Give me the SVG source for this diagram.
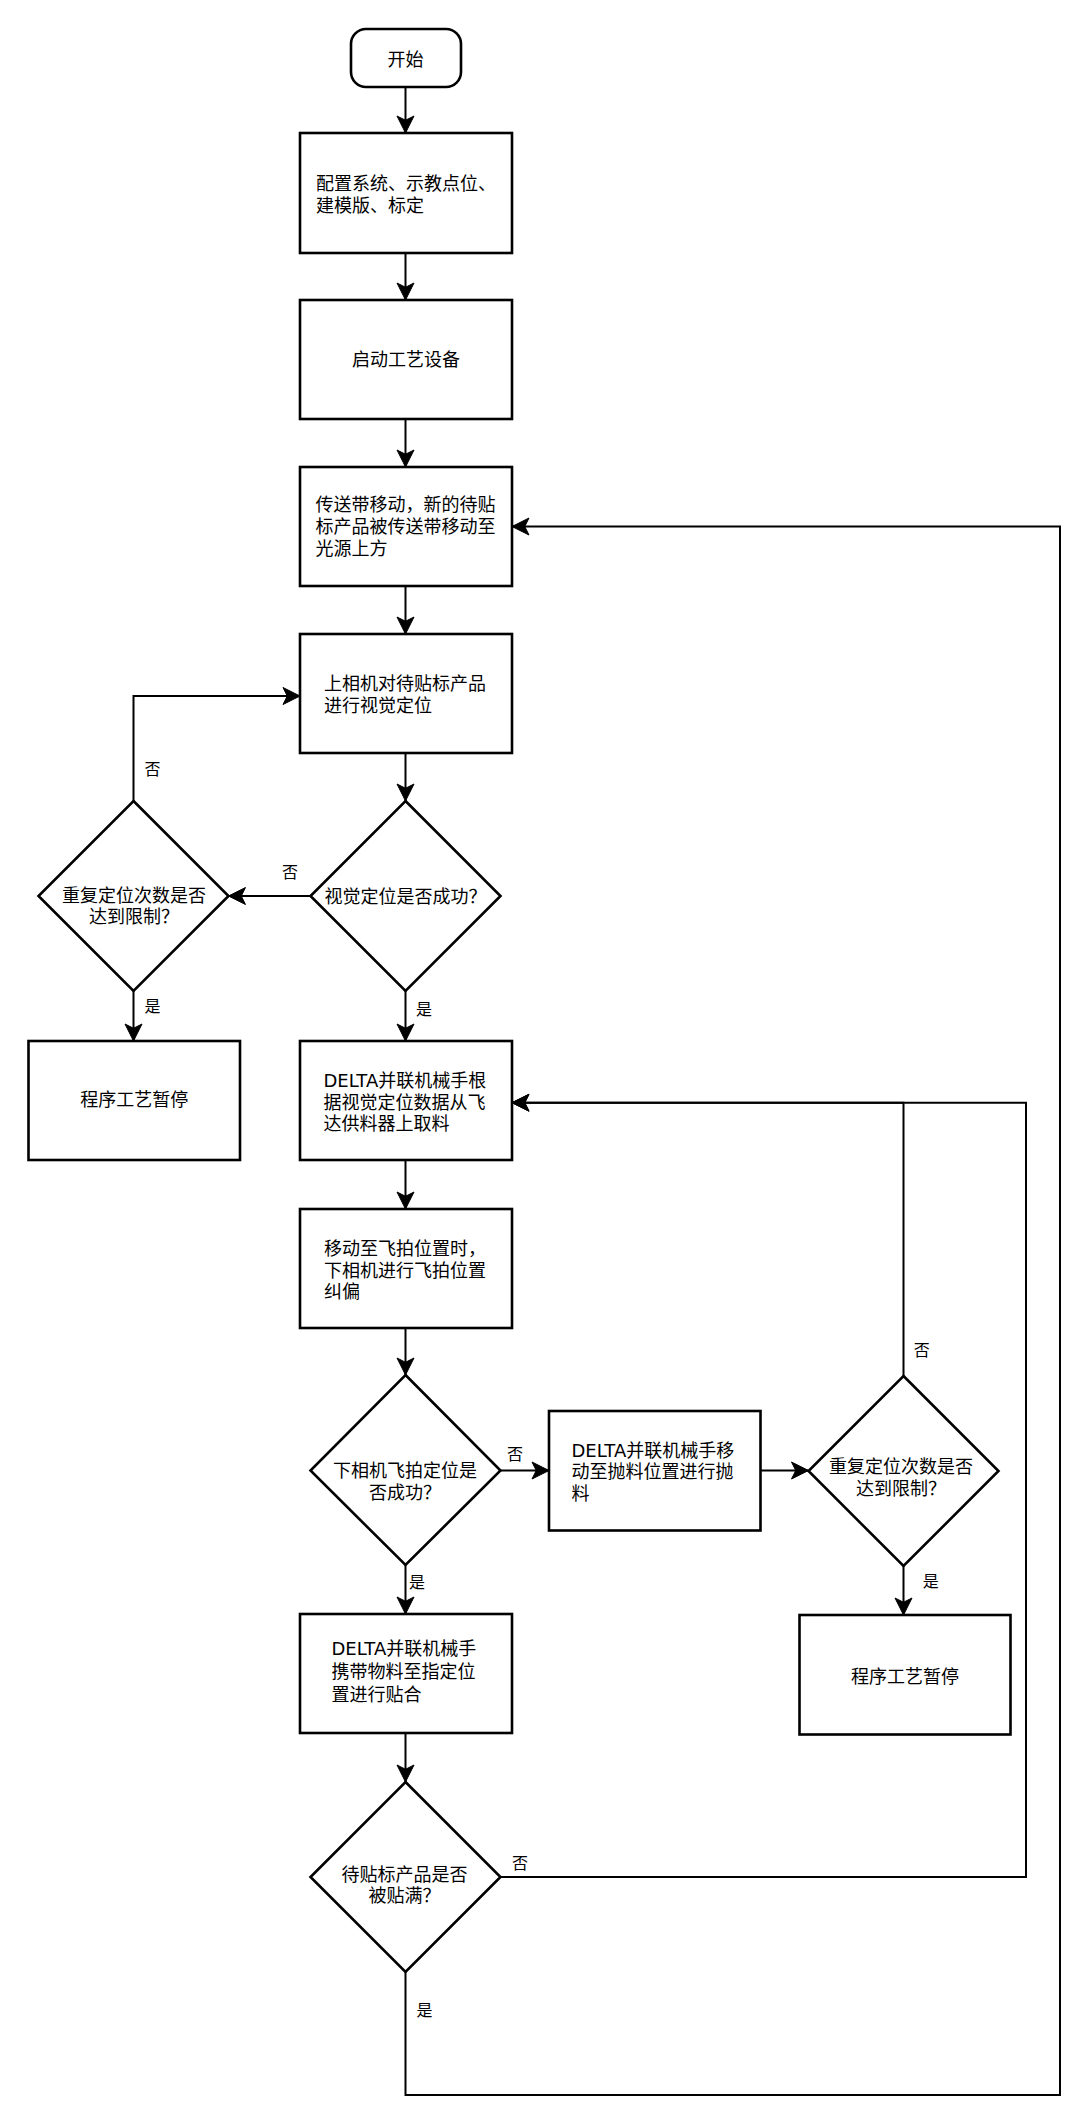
<svg xmlns="http://www.w3.org/2000/svg" width="1080" height="2124" viewBox="0 0 1080 2124">
<style>
.shape{fill:#ffffff;stroke:#000000;stroke-width:2.6}
.edge{fill:none;stroke:#000000;stroke-width:2}
.t{font-family:"DejaVu Sans","Noto Sans CJK SC",sans-serif;font-size:18px;fill:#000000}
.c{text-anchor:middle}
.lbl{font-family:"DejaVu Sans","Noto Sans CJK SC",sans-serif;font-size:16px;fill:#000000;text-anchor:middle}
</style>
<defs>
<marker id="arr" viewBox="-19 -10 21 20" refX="0" refY="0" markerWidth="21" markerHeight="20" markerUnits="userSpaceOnUse" orient="auto">
<path d="M0,0 L-17,-8.5 L-12.75,0 L-17,8.5 Z" fill="#000000" stroke="#000000" stroke-width="1" stroke-linejoin="miter"/>
</marker>
</defs>
<rect width="1080" height="2124" fill="#ffffff"/>

<g id="connectors">
<path class="edge" d="M405.5,87 L405.5,133" marker-end="url(#arr)"/>
<path class="edge" d="M405.5,253 L405.5,300" marker-end="url(#arr)"/>
<path class="edge" d="M405.5,419 L405.5,467" marker-end="url(#arr)"/>
<path class="edge" d="M405.5,586 L405.5,634" marker-end="url(#arr)"/>
<path class="edge" d="M405.5,753 L405.5,801" marker-end="url(#arr)"/>
<path class="edge" d="M310.5,896 L228.5,896" marker-end="url(#arr)"/>
<path class="edge" d="M133.5,801 L133.5,696 L300,696" marker-end="url(#arr)"/>
<path class="edge" d="M133.5,991 L133.5,1041" marker-end="url(#arr)"/>
<path class="edge" d="M405.5,991 L405.5,1041" marker-end="url(#arr)"/>
<path class="edge" d="M405.5,1160 L405.5,1209" marker-end="url(#arr)"/>
<path class="edge" d="M405.5,1328 L405.5,1375" marker-end="url(#arr)"/>
<path class="edge" d="M500.5,1470.5 L549,1470.5" marker-end="url(#arr)"/>
<path class="edge" d="M760.5,1470.5 L808.5,1470.5" marker-end="url(#arr)"/>
<path class="edge" d="M903.5,1376 L903.5,1102.7 L512,1102.7" marker-end="url(#arr)"/>
<path class="edge" d="M903.5,1566 L903.5,1615" marker-end="url(#arr)"/>
<path class="edge" d="M405.5,1565 L405.5,1614" marker-end="url(#arr)"/>
<path class="edge" d="M405.5,1733 L405.5,1782" marker-end="url(#arr)"/>
<path class="edge" d="M500.5,1877 L1026,1877 L1026,1102.7 L512,1102.7" marker-end="url(#arr)"/>
<path class="edge" d="M405.5,1972 L405.5,2095 L1060,2095 L1060,526.5 L512,526.5" marker-end="url(#arr)"/>
<text class="lbl" x="290" y="878">否</text>
<text class="lbl" x="152.5" y="774.5">否</text>
<text class="lbl" x="152.5" y="1012">是</text>
<text class="lbl" x="424" y="1015">是</text>
<text class="lbl" x="515" y="1460">否</text>
<text class="lbl" x="921.7" y="1356">否</text>
<text class="lbl" x="930.7" y="1586.5">是</text>
<text class="lbl" x="417" y="1588">是</text>
<text class="lbl" x="520" y="1869">否</text>
<text class="lbl" x="424.5" y="2015.5">是</text>
</g>

<g id="start">
<rect class="shape" x="351" y="29" width="110" height="58" rx="15" ry="15"/>
<text class="t c" x="405.5" y="65.5">开始</text>
</g>

<g id="config">
<rect class="shape" x="300" y="133" width="212" height="120"/>
<text class="t"><tspan x="316" y="190">配置系统、示教点位、</tspan><tspan x="316" y="212">建模版、标定</tspan></text>
</g>

<g id="startEquip">
<rect class="shape" x="300" y="300" width="212" height="119"/>
<text class="t c" x="406" y="366">启动工艺设备</text>
</g>

<g id="conveyor">
<rect class="shape" x="300" y="467" width="212" height="119"/>
<text class="t"><tspan x="315.5" y="511.3">传送带移动，新的待贴</tspan><tspan x="315.5" y="533">标产品被传送带移动至</tspan><tspan x="315.5" y="554.7">光源上方</tspan></text>
</g>

<g id="topCamera">
<rect class="shape" x="300" y="634" width="212" height="119"/>
<text class="t"><tspan x="324" y="689.8">上相机对待贴标产品</tspan><tspan x="324" y="711.5">进行视觉定位</tspan></text>
</g>

<g id="visionOk">
<polygon class="shape" points="405.5,801 500.5,896 405.5,991 310.5,896"/>
<text class="t c" x="405.5" y="903">视觉定位是否成功？</text>
</g>

<g id="retryLimit1">
<polygon class="shape" points="133.5,801 228.5,896 133.5,991 38.5,896"/>
<text class="t c"><tspan x="134" y="901.5">重复定位次数是否</tspan><tspan x="134" y="923">达到限制？</tspan></text>
</g>

<g id="pause1">
<rect class="shape" x="28.5" y="1041" width="211.5" height="119"/>
<text class="t c" x="134.3" y="1106">程序工艺暂停</text>
</g>

<g id="pick">
<rect class="shape" x="300" y="1041" width="212" height="119"/>
<text class="t"><tspan x="323.5" y="1087">DELTA并联机械手根</tspan><tspan x="323.5" y="1108.7">据视觉定位数据从飞</tspan><tspan x="323.5" y="1130.4">达供料器上取料</tspan></text>
</g>

<g id="flyShot">
<rect class="shape" x="300" y="1209" width="212" height="119"/>
<text class="t"><tspan x="324" y="1254.8">移动至飞拍位置时，</tspan><tspan x="324" y="1276.5">下相机进行飞拍位置</tspan><tspan x="324" y="1298.2">纠偏</tspan></text>
</g>

<g id="bottomOk">
<polygon class="shape" points="405.5,1375 500.5,1470.5 405.5,1565 310.5,1470.5"/>
<text class="t c"><tspan x="405" y="1476.5">下相机飞拍定位是</tspan><tspan x="405" y="1499">否成功？</tspan></text>
</g>

<g id="discard">
<rect class="shape" x="549" y="1411" width="211.5" height="119.5"/>
<text class="t"><tspan x="571.5" y="1456.5">DELTA并联机械手移</tspan><tspan x="571.5" y="1478.2">动至抛料位置进行抛</tspan><tspan x="571.5" y="1499.8">料</tspan></text>
</g>

<g id="retryLimit2">
<polygon class="shape" points="903.5,1376 998.5,1471 903.5,1566 808.5,1471"/>
<text class="t c"><tspan x="901" y="1473.2">重复定位次数是否</tspan><tspan x="901" y="1494.8">达到限制？</tspan></text>
</g>

<g id="pause2">
<rect class="shape" x="799.5" y="1615" width="211" height="119.5"/>
<text class="t c" x="905" y="1683">程序工艺暂停</text>
</g>

<g id="place">
<rect class="shape" x="300" y="1614" width="212" height="119"/>
<text class="t"><tspan x="331.5" y="1654.8">DELTA并联机械手</tspan><tspan x="331.5" y="1678.2">携带物料至指定位</tspan><tspan x="331.5" y="1700.8">置进行贴合</tspan></text>
</g>

<g id="full">
<polygon class="shape" points="405.5,1782 500.5,1877 405.5,1972 310.5,1877"/>
<text class="t c"><tspan x="404.5" y="1880.5">待贴标产品是否</tspan><tspan x="404.5" y="1902">被贴满？</tspan></text>
</g>
</svg>
